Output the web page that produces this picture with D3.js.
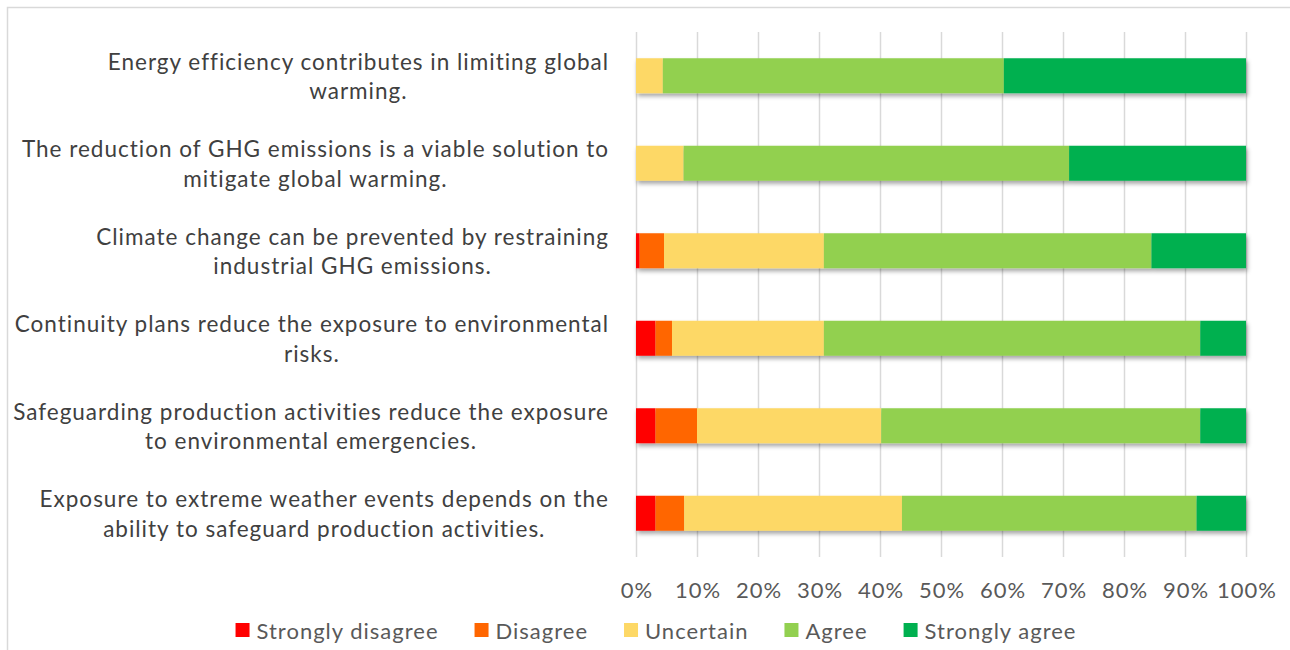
<!DOCTYPE html>
<html>
<head>
<meta charset="utf-8">
<script src="https://cdn.jsdelivr.net/npm/d3@7"></script>
<style>
  html, body { margin: 0; padding: 0; background: #ffffff; }
  svg { display: block; }
</style>
</head>
<body>
<svg id="chart" width="1290" height="650"></svg>
<script>
// Survey statements (top to bottom), each split into its two display lines
const statements = [
  ["Energy efficiency contributes in limiting global", "warming."],
  ["The reduction of GHG emissions is a viable solution to", "mitigate global warming."],
  ["Climate change can be prevented by restraining", "industrial GHG emissions."],
  ["Continuity plans reduce the exposure to environmental", "risks."],
  ["Safeguarding production activities reduce the exposure", "to environmental emergencies."],
  ["Exposure to extreme weather events depends on the", "ability to safeguard production activities."]
];

// Response categories (stack order, left to right)
const responses = ["Strongly disagree", "Disagree", "Uncertain", "Agree", "Strongly agree"];
const responseColors = ["#ff0000", "#ff6600", "#fdd866", "#92d050", "#00b050"];

// Share of respondents (%) per statement, one array per response
const stronglyDisagree = [0.0, 0.0, 0.6, 3.2, 3.2, 3.2];
const disagree         = [0.0, 0.0, 4.0, 2.7, 6.8, 4.7];
const uncertain        = [4.4, 7.8, 26.2, 24.9, 30.2, 35.7];
const agree            = [55.9, 63.2, 53.7, 61.7, 52.3, 48.3];
const stronglyAgree    = [39.7, 29.0, 15.5, 7.5, 7.5, 8.1];

// Axis tick values and labels
const tickValues = [0, 10, 20, 30, 40, 50, 60, 70, 80, 90, 100];
const tickLabels = ["0%", "10%", "20%", "30%", "40%", "50%", "60%", "70%", "80%", "90%", "100%"];

const seriesValues = [stronglyDisagree, disagree, uncertain, agree, stronglyAgree];
const rows = statements.map((s, i) => {
  const r = { id: i };
  responses.forEach((k, j) => { r[k] = seriesValues[j][i]; });
  return r;
});

const svg = d3.select("#chart");
const FONT = "Lato, 'Open Sans', 'DejaVu Sans', sans-serif";

// Outer chart frame
svg.append("rect")
  .attr("x", 7.5).attr("y", 7.5)
  .attr("width", 1320).attr("height", 700)
  .attr("fill", "#ffffff").attr("stroke", "#d9d9d9").attr("stroke-width", 1.5);

const plot = { left: 636, right: 1246, top: 32, bottom: 557 };

const x = d3.scaleLinear().domain([0, 100]).range([plot.left, plot.right]);
const y = d3.scaleBand().domain(rows.map(r => r.id)).range([plot.top, plot.bottom]).paddingInner(0.6).paddingOuter(0.3);

// Soft shadow under the bars
const defs = svg.append("defs");
const shadow = defs.append("filter").attr("id", "barShadow")
  .attr("x", "-5%").attr("y", "-20%").attr("width", "110%").attr("height", "160%");
shadow.append("feDropShadow")
  .attr("dx", 1.5).attr("dy", 3).attr("stdDeviation", 2)
  .attr("flood-color", "#000000").attr("flood-opacity", 0.35);

// Vertical gridlines
svg.append("g")
  .attr("transform", `translate(0,${plot.bottom})`)
  .call(d3.axisBottom(x).tickValues(tickValues).tickSize(-(plot.bottom - plot.top)).tickFormat(""))
  .call(g => g.select(".domain").remove())
  .call(g => g.selectAll("line").attr("stroke", "#d9d9d9").attr("stroke-width", 1.5));

// Stacked bars
const stack = d3.stack().keys(responses);
const layers = stack(rows);
const barGroup = svg.append("g").attr("filter", "url(#barShadow)");
barGroup.selectAll("g.layer")
  .data(layers)
  .join("g")
  .attr("class", "layer")
  .attr("fill", (d, i) => responseColors[i])
  .selectAll("rect")
  .data(d => d)
  .join("rect")
  .attr("x", d => x(d[0]))
  .attr("y", d => y(d.data.id))
  .attr("width", d => Math.max(0, x(d[1]) - x(d[0])))
  .attr("height", y.bandwidth());

// Tick labels along the bottom
const xAxis = svg.append("g")
  .attr("transform", `translate(0,${plot.bottom})`)
  .call(d3.axisBottom(x).tickValues(tickValues).tickSize(0).tickPadding(25)
    .tickFormat((d, i) => tickLabels[i]));
xAxis.select(".domain").remove();
xAxis.selectAll("text")
  .attr("font-family", FONT).attr("font-size", 22).attr("letter-spacing", 1)
  .attr("dx", 0.5).attr("fill", "#595959");

// Statement labels: two centred lines, block right-aligned next to the plot
const labelRight = 609;
const labelSize = 22.5;
const labelGroup = svg.append("g")
  .attr("font-family", FONT).attr("font-size", labelSize)
  .attr("letter-spacing", 1).attr("fill", "#404040");
rows.forEach((r, i) => {
  const cy = y(r.id) + y.bandwidth() / 2;
  const g = labelGroup.append("g");
  const texts = statements[i].map((line, k) =>
    g.append("text")
      .attr("text-anchor", "middle")
      .attr("dominant-baseline", "central")
      .attr("y", cy + (k === 0 ? -14.5 : 15))
      .text(line));
  const w = d3.max(texts, t => t.node().getComputedTextLength());
  texts.forEach(t => t.attr("x", labelRight - w / 2));
});

// Legend, centred under the axis
const legendY = 630;
const legendCenter = 656;
const sw = 14, swGap = 7, itemGap = 36;
const legend = svg.append("g").attr("font-family", FONT).attr("font-size", 22)
  .attr("letter-spacing", 1).attr("fill", "#595959");
const items = responses.map((name, i) => {
  const g = legend.append("g");
  g.append("rect").attr("width", sw).attr("height", sw).attr("y", legendY - sw / 2).attr("fill", responseColors[i]);
  const t = g.append("text").attr("x", sw + swGap).attr("y", legendY).attr("dominant-baseline", "central").text(name);
  return { g, w: sw + swGap + t.node().getComputedTextLength() };
});
const totalW = d3.sum(items, d => d.w) + itemGap * (items.length - 1);
let cx = legendCenter - totalW / 2;
items.forEach(it => { it.g.attr("transform", `translate(${cx},0)`); cx += it.w + itemGap; });
</script>
</body>
</html>
